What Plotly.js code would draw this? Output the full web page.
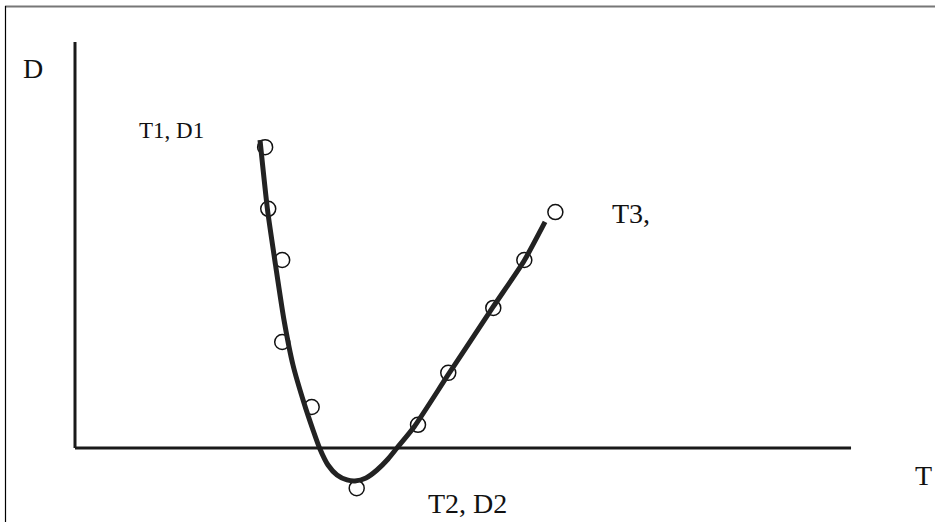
<!DOCTYPE html>
<html>
<head>
<meta charset="utf-8">
<script src="https://cdn.plot.ly/plotly-3.0.1.min.js"></script>
<style>html,body{margin:0;padding:0;background:#fff;}#chart{width:935px;height:522px;}</style>
</head>
<body>
<div id="chart"></div>
<script>
// Observed data points (T, D)
var pointT = [24.5, 24.9, 26.7, 26.7, 30.5, 36.3, 44.2, 48.1, 53.9, 57.9, 61.9];
var pointD = [74.1, 58.9, 46.3, 26.1, 10.1, -9.9, 5.7, 18.5, 34.5, 46.3, 58.1];

// Fitted curve (T, D)
var curveT = [23.84, 24.81, 25.84, 26.93, 28.09, 29.51, 30.67, 31.51, 32.60, 33.76, 35.05, 36.08, 37.50, 38.92, 40.34, 41.49, 43.69, 48.07, 53.87, 57.86, 60.57];
var curveD = [75.86, 58.62, 45.07, 31.53, 20.44, 11.08, 4.43, 0.0, -4.19, -6.65, -7.88, -8.13, -7.39, -5.42, -2.71, 0.0, 5.17, 17.98, 34.73, 46.06, 55.67];

var bigFont = {family: 'Liberation Serif, Times New Roman, serif', size: 28, color: '#111'};
var smallFont = {family: 'Liberation Serif, Times New Roman, serif', size: 23, color: '#111'};

var traces = [
  {
    x: pointT, y: pointD, type: 'scatter', mode: 'markers',
    marker: {symbol: 'circle', size: 15, color: '#ffffff', line: {color: '#111', width: 1.5}},
    hoverinfo: 'skip', showlegend: false
  },
  {
    x: curveT, y: curveD, type: 'scatter', mode: 'lines',
    line: {color: '#222', width: 5, shape: 'spline', smoothing: 0.6},
    hoverinfo: 'skip', showlegend: false
  }
];

var W = 935, H = 522;
function px(x) { return x / W; }
function py(y) { return 1 - y / H; }

var layout = {
  width: W, height: H,
  margin: {l: 0, r: 0, t: 0, b: 0},
  paper_bgcolor: '#fff', plot_bgcolor: '#fff',
  xaxis: {range: [-9.665, 110.82], showgrid: false, zeroline: false, showticklabels: false, ticks: '', showline: false, fixedrange: true},
  yaxis: {range: [-18.23, 110.34], showgrid: false, zeroline: false, showticklabels: false, ticks: '', showline: false, fixedrange: true},
  shapes: [
    {type: 'line', xref: 'x', yref: 'y', x0: 0, y0: 0, x1: 0, y1: 100, line: {color: '#1a1a1a', width: 3}},
    {type: 'line', xref: 'x', yref: 'y', x0: 0, y0: 0, x1: 100, y1: 0, line: {color: '#1a1a1a', width: 3}},
    {type: 'line', xref: 'paper', yref: 'paper', x0: px(5), y0: py(6.5), x1: 1, y1: py(6.5), line: {color: '#777', width: 2}},
    {type: 'line', xref: 'paper', yref: 'paper', x0: px(5.5), y0: py(6), x1: px(5.5), y1: 0, line: {color: '#000', width: 1.2}}
  ],
  annotations: [
    {text: 'D', xref: 'paper', yref: 'paper', x: px(33), y: py(68), showarrow: false, font: bigFont, xanchor: 'center', yanchor: 'middle'},
    {text: 'T1, D1', xref: 'paper', yref: 'paper', x: px(171.5), y: py(130), showarrow: false, font: smallFont, xanchor: 'center', yanchor: 'middle'},
    {text: 'T3,', xref: 'paper', yref: 'paper', x: px(631), y: py(213), showarrow: false, font: bigFont, xanchor: 'center', yanchor: 'middle'},
    {text: 'T2, D2', xref: 'paper', yref: 'paper', x: px(468), y: py(503), showarrow: false, font: bigFont, xanchor: 'center', yanchor: 'middle'},
    {text: 'T', xref: 'paper', yref: 'paper', x: px(923), y: py(475), showarrow: false, font: bigFont, xanchor: 'center', yanchor: 'middle'}
  ]
};

Plotly.newPlot('chart', traces, layout, {displayModeBar: false, staticPlot: true});
</script>
</body>
</html>
